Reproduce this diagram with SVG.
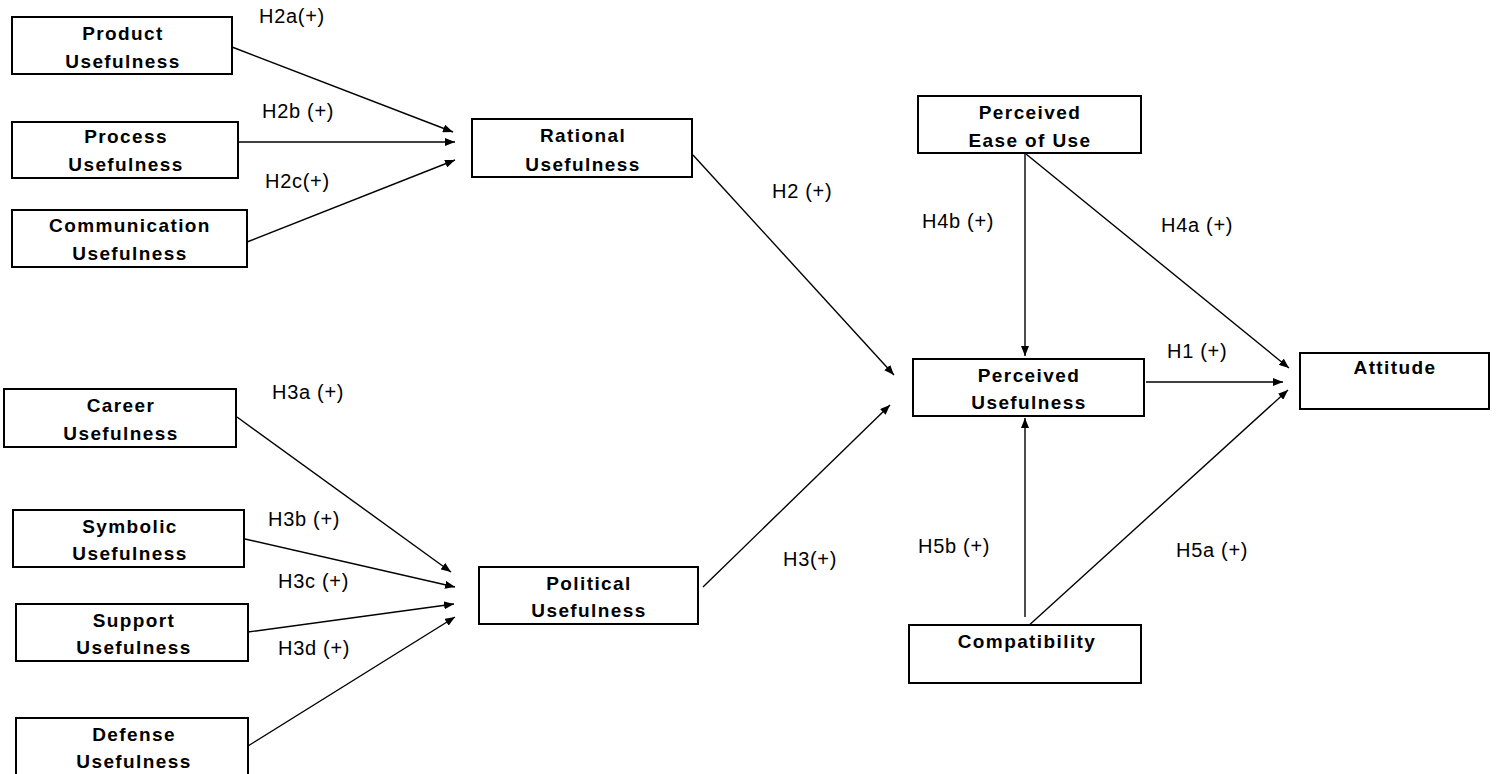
<svg xmlns="http://www.w3.org/2000/svg" width="1497" height="774" viewBox="0 0 1497 774">
<style>
.box{fill:#fff;stroke:#000;stroke-width:2}
.nt{font-family:"Liberation Sans",Arial,sans-serif;font-weight:bold;font-size:19px;letter-spacing:1.4px;text-anchor:middle;fill:#000}
.lb{font-family:"Liberation Sans",Arial,sans-serif;font-size:20px;letter-spacing:0.7px;fill:#000}
.cn{stroke:#000;stroke-width:1.4;fill:none;marker-end:url(#ah)}
</style>
<defs>
<marker id="ah" markerUnits="userSpaceOnUse" markerWidth="10" markerHeight="8" viewBox="0 0 10 8" refX="10" refY="4" orient="auto">
<path d="M0,0 L10,4 L0,8 Z" fill="#000"/>
</marker>
</defs>
<rect width="1497" height="774" fill="#fff"/>
<g id="connectors">
<line class="cn" x1="232" y1="47" x2="453" y2="132"/>
<line class="cn" x1="238" y1="142" x2="455" y2="142"/>
<line class="cn" x1="247" y1="242" x2="455" y2="160"/>
<line class="cn" x1="693" y1="155" x2="894" y2="375"/>
<line class="cn" x1="237" y1="417" x2="451" y2="572"/>
<line class="cn" x1="245" y1="539" x2="455" y2="587"/>
<line class="cn" x1="248" y1="632" x2="454" y2="604"/>
<line class="cn" x1="248" y1="746" x2="455" y2="617"/>
<line class="cn" x1="703" y1="587" x2="890" y2="405"/>
<line class="cn" x1="1025" y1="153" x2="1025" y2="356"/>
<line class="cn" x1="1026" y1="154" x2="1289" y2="368"/>
<line class="cn" x1="1146" y1="382" x2="1283" y2="382"/>
<line class="cn" x1="1025" y1="617" x2="1025" y2="418"/>
<line class="cn" x1="1026" y1="628" x2="1288" y2="390"/>
</g>
<g id="labels">
<text class="lb" x="259" y="23">H2a(+)</text>
<text class="lb" x="262" y="118">H2b (+)</text>
<text class="lb" x="265" y="188">H2c(+)</text>
<text class="lb" x="772" y="198">H2 (+)</text>
<text class="lb" x="272" y="399">H3a (+)</text>
<text class="lb" x="268" y="526">H3b (+)</text>
<text class="lb" x="278" y="588">H3c (+)</text>
<text class="lb" x="278" y="655">H3d (+)</text>
<text class="lb" x="783" y="566">H3(+)</text>
<text class="lb" x="922" y="228">H4b (+)</text>
<text class="lb" x="1161" y="232">H4a (+)</text>
<text class="lb" x="1167" y="358">H1 (+)</text>
<text class="lb" x="918" y="553">H5b (+)</text>
<text class="lb" x="1176" y="557">H5a (+)</text>
</g>
<g id="product">
<rect class="box" x="12" y="17" width="220" height="57"/>
<text class="nt" x="123" y="40">Product</text>
<text class="nt" x="123" y="68">Usefulness</text>
</g>
<g id="process">
<rect class="box" x="12" y="122" width="226" height="56"/>
<text class="nt" x="126" y="143">Process</text>
<text class="nt" x="126" y="171">Usefulness</text>
</g>
<g id="communication">
<rect class="box" x="12" y="210" width="235" height="57"/>
<text class="nt" x="130" y="232">Communication</text>
<text class="nt" x="130" y="260">Usefulness</text>
</g>
<g id="rational">
<rect class="box" x="472" y="119" width="220" height="58"/>
<text class="nt" x="583" y="142">Rational</text>
<text class="nt" x="583" y="171">Usefulness</text>
</g>
<g id="career">
<rect class="box" x="4" y="389" width="232" height="58"/>
<text class="nt" x="121" y="412">Career</text>
<text class="nt" x="121" y="440">Usefulness</text>
</g>
<g id="symbolic">
<rect class="box" x="13" y="510" width="231" height="57"/>
<text class="nt" x="130" y="533">Symbolic</text>
<text class="nt" x="130" y="560">Usefulness</text>
</g>
<g id="support">
<rect class="box" x="16" y="604" width="232" height="57"/>
<text class="nt" x="134" y="627">Support</text>
<text class="nt" x="134" y="654">Usefulness</text>
</g>
<g id="defense">
<rect class="box" x="16" y="718" width="232" height="60"/>
<text class="nt" x="134" y="741">Defense</text>
<text class="nt" x="134" y="768">Usefulness</text>
</g>
<g id="political">
<rect class="box" x="479" y="567" width="219" height="57"/>
<text class="nt" x="589" y="590">Political</text>
<text class="nt" x="589" y="617">Usefulness</text>
</g>
<g id="peou">
<rect class="box" x="918" y="96" width="223" height="57"/>
<text class="nt" x="1030" y="119">Perceived</text>
<text class="nt" x="1030" y="147">Ease of Use</text>
</g>
<g id="pu">
<rect class="box" x="913" y="359" width="231" height="57"/>
<text class="nt" x="1029" y="382">Perceived</text>
<text class="nt" x="1029" y="409">Usefulness</text>
</g>
<g id="attitude">
<rect class="box" x="1300" y="353" width="189" height="56"/>
<text class="nt" x="1395" y="374">Attitude</text>
</g>
<g id="compatibility">
<rect class="box" x="909" y="625" width="232" height="58"/>
<text class="nt" x="1027" y="648">Compatibility</text>
</g>
</svg>
